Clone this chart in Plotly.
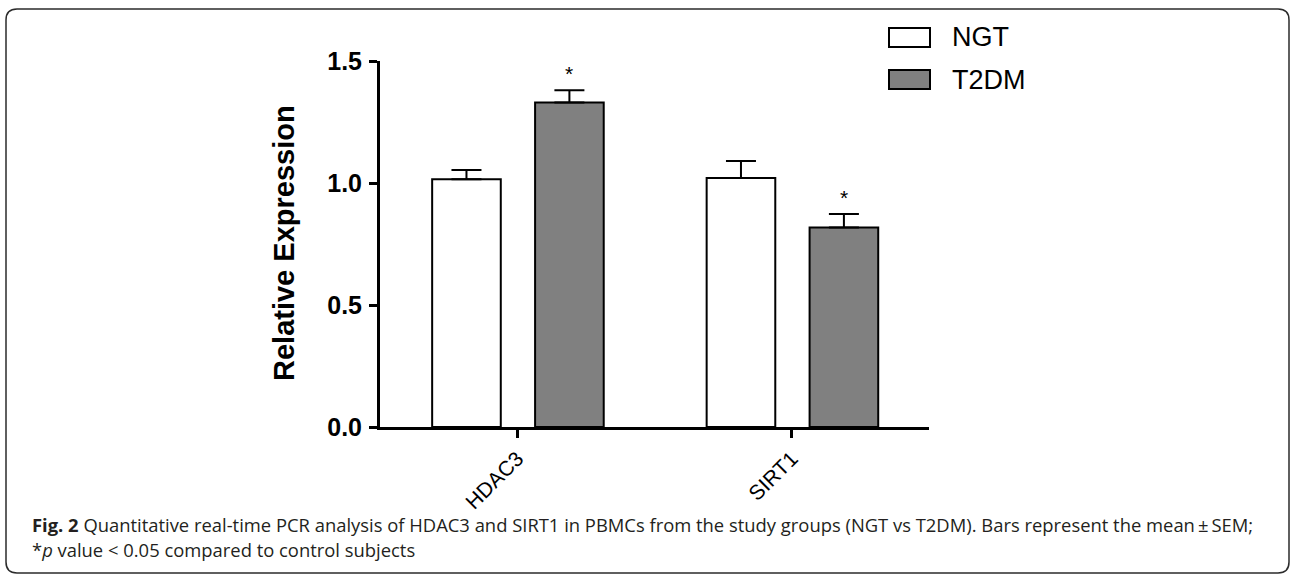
import plotly.graph_objects as go

# ---- data ----
genes = ["HDAC3", "SIRT1"]
ngt_mean = [1.015, 1.020]
ngt_sem = [0.038, 0.070]
t2dm_mean = [1.330, 0.818]
t2dm_sem = [0.050, 0.055]
significant = [True, True]
y_ticks = [0.0, 0.5, 1.0, 1.5]
y_ticklabels = ["0.0", "0.5", "1.0", "1.5"]
series_names = ["NGT", "T2DM"]
y_title = "Relative Expression"
caption_line1 = ("<b>Fig. 2</b> Quantitative real-time PCR analysis of HDAC3 and SIRT1 in PBMCs "
                 "from the study groups (NGT vs T2DM). Bars represent the mean\u2009\u00b1\u2009SEM;")
caption_line2 = "*<i>p</i> value &lt; 0.05 compared to control subjects"

# ---- layout geometry (pixels) ----
W, H = 1292, 576
L, R, T, B = 380, 929, 61, 427  # plot area in px

def px(x):
    return (x - L) / (R - L)

def py(y):
    return (B - y) / (B - T)

AX = "Arial, 'Liberation Sans', sans-serif"
BAR_W = 0.25
OFF_NGT = -0.31
OFF_T2 = 0.065
ngt_fill = "#ffffff"
t2_fill = "#808080"

fig = go.Figure()
fig.add_trace(go.Bar(
    x=genes, y=ngt_mean, name=series_names[0], width=BAR_W, offset=OFF_NGT,
    marker=dict(color=ngt_fill, line=dict(color="black", width=2)),
    error_y=dict(type="data", symmetric=False, array=ngt_sem, arrayminus=[0] * len(genes),
                 color="black", thickness=2, width=15),
    showlegend=False,
))
fig.add_trace(go.Bar(
    x=genes, y=t2dm_mean, name=series_names[1], width=BAR_W, offset=OFF_T2,
    marker=dict(color=t2_fill, line=dict(color="black", width=2)),
    error_y=dict(type="data", symmetric=False, array=t2dm_sem, arrayminus=[0] * len(genes),
                 color="black", thickness=2, width=15),
    showlegend=False,
))

annotations = []
# significance stars
for i, (m, s, sig) in enumerate(zip(t2dm_mean, t2dm_sem, significant)):
    if sig:
        annotations.append(dict(x=i + OFF_T2 + BAR_W / 2, y=m + s, xref="x", yref="y",
                                text="*", showarrow=False, yanchor="bottom", yshift=3,
                                font=dict(family=AX, size=21, color="black")))
# y title
annotations.append(dict(x=px(284), y=py(243), xref="paper", yref="paper", text=f"<b>{y_title}</b>",
                        textangle=-90, showarrow=False, xanchor="center", yanchor="middle",
                        font=dict(family=AX, size=29, color="black")))
# legend
legend_rows = [(28, 47, ngt_fill), (70, 89, t2_fill)]
shapes = []
for name, (y0, y1, fill) in zip(series_names, legend_rows):
    shapes.append(dict(type="rect", xref="paper", yref="paper", x0=px(889), x1=px(930),
                       y0=py(y1), y1=py(y0), fillcolor=fill, line=dict(color="black", width=2)))
    annotations.append(dict(x=px(950), y=py((y0 + y1) / 2), xref="paper", yref="paper", text=name,
                            showarrow=False, xanchor="left", yanchor="middle",
                            font=dict(family=AX, size=27, color="black")))
# caption
CAP = "'Open Sans', 'Noto Sans', sans-serif"
annotations.append(dict(x=px(30), y=py(524), xref="paper", yref="paper", text=caption_line1,
                        showarrow=False, xanchor="left", yanchor="middle",
                        font=dict(family=CAP, size=18.4, color="#231f20")))
annotations.append(dict(x=px(30), y=py(549), xref="paper", yref="paper", text=caption_line2,
                        showarrow=False, xanchor="left", yanchor="middle",
                        font=dict(family=CAP, size=18.4, color="#231f20")))

# rounded border
bx0, bx1, by0, by1, r = 6, 1289, 9, 573, 11
path = (f"M{px(bx0 + r)},{py(by0)} L{px(bx1 - r)},{py(by0)} Q{px(bx1)},{py(by0)} {px(bx1)},{py(by0 + r)} "
        f"L{px(bx1)},{py(by1 - r)} Q{px(bx1)},{py(by1)} {px(bx1 - r)},{py(by1)} "
        f"L{px(bx0 + r)},{py(by1)} Q{px(bx0)},{py(by1)} {px(bx0)},{py(by1 - r)} "
        f"L{px(bx0)},{py(by0 + r)} Q{px(bx0)},{py(by0)} {px(bx0 + r)},{py(by0)} Z")
shapes.append(dict(type="path", xref="paper", yref="paper", path=path,
                   line=dict(color="#2b2b2b", width=1.5)))

fig.update_layout(
    width=W, height=H,
    margin=dict(l=L, r=W - R, t=T, b=H - B, pad=0),
    paper_bgcolor="white", plot_bgcolor="white",
    barmode="group",
    annotations=annotations, shapes=shapes,
    xaxis=dict(type="category", range=[-0.5, len(genes) - 0.5], showline=True, linewidth=3,
               linecolor="black", ticks="outside", ticklen=8, tickwidth=3, tickcolor="black",
               tickangle=-45, tickfont=dict(family=AX, size=21, color="black"),
               showgrid=False, zeroline=False),
    yaxis=dict(range=[0, 1.5], tickvals=y_ticks, ticktext=y_ticklabels, showline=True, linewidth=3,
               linecolor="black", ticks="outside", ticklen=8, tickwidth=3, tickcolor="black",
               tickfont=dict(family=AX, size=25, color="black", weight="bold"), ticklabelstandoff=2,
               showgrid=False, zeroline=False),
    font=dict(family=AX),
)

fig.write_html("out.html", config={"displayModeBar": False},
               post_script="document.body.style.margin='0';")
